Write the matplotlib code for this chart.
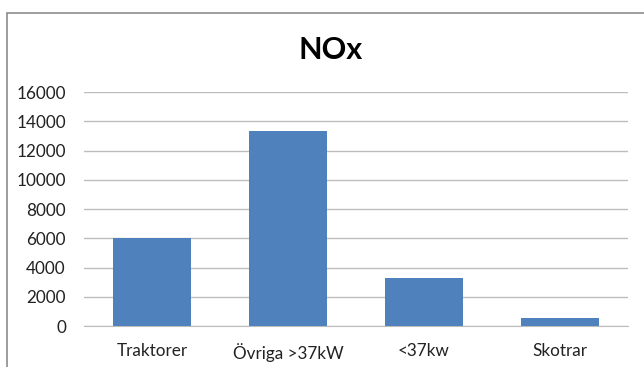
#!/usr/bin/env python3
"""NOx per maskintyp"""
import matplotlib.pyplot as plt
from matplotlib.patches import Rectangle

BAR, GRID, FRAME = '#4f81bd', '#bdbdbd', '#8c8c8c'

categories = ['Traktorer', 'Övriga >37kW', '<37kw', 'Skotrar']
nox = [6000, 13350, 3300, 570]
yticks = [0, 2000, 4000, 6000, 8000, 10000, 12000, 14000, 16000]

plt.rcParams['font.family'] = ['Lato', 'DejaVu Sans']

fig = plt.figure(figsize=(6.44, 3.67), dpi=100)
ax = fig.add_axes([0.1304, 0.1117, 0.8447, 0.6376])

# chart area border (clipped at right/bottom edge)
fig.patches.append(Rectangle((7 / 644, -0.1), 1.2, 1 - 13 / 367 + 0.1,
                             transform=fig.transFigure, fill=False,
                             edgecolor=FRAME, lw=1.2))

ax.bar(range(len(categories)), nox, width=0.57, color=BAR, zorder=3)
ax.set_xlim(-0.5, len(categories) - 0.5)
ax.set_ylim(0, 16000)
ax.set_yticks(yticks)
ax.set_yticklabels([str(v) for v in yticks], fontsize=12.3, color='#222222')
ax.set_xticks(range(len(categories)))
ax.set_xticklabels(categories, fontsize=12.3, color='#222222')
ax.tick_params(length=0, axis='y', pad=13)
ax.tick_params(length=0, axis='x', pad=12)
ax.grid(True, axis='y', color=GRID, lw=1, zorder=0)
for side in ('left', 'right', 'top'):
    ax.spines[side].set_visible(False)
ax.spines['bottom'].set_color(GRID)

fig.text(0.513, 1 - 50 / 367, 'NOx', ha='center', va='center',
         fontsize=22, fontweight='bold')

fig.savefig('out.png', dpi=100, facecolor='white')
